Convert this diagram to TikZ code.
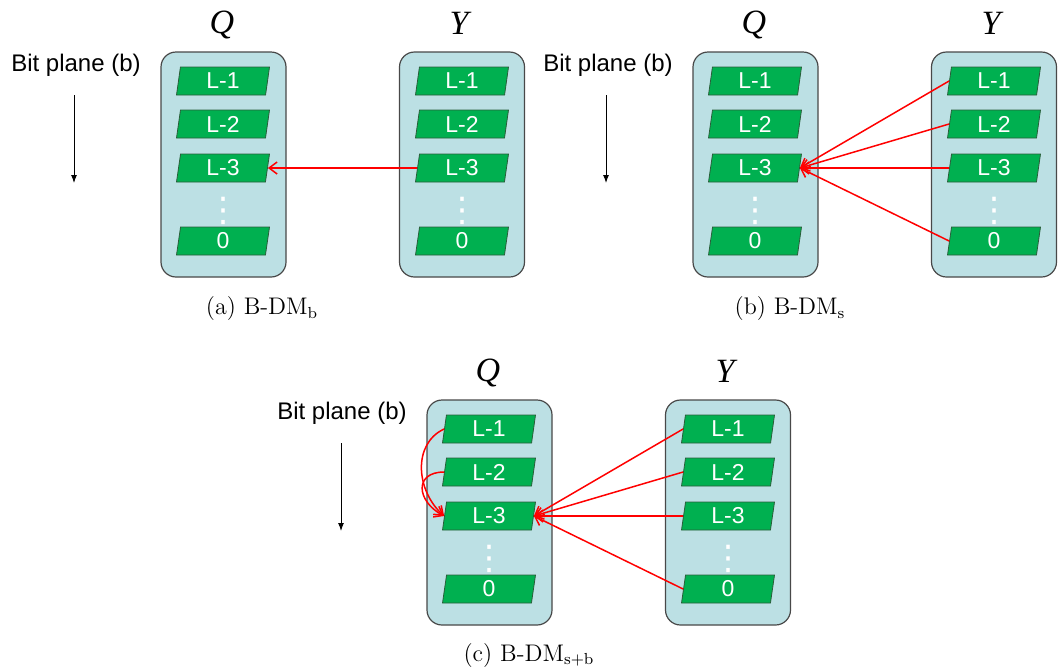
\documentclass[tikz,border=0pt]{standalone}
\usepackage{fontspec}
\newfontfamily\arialfont{Liberation Sans}
\newfontfamily\timesfont{Liberation Serif}
\newfontfamily\symbolfont{DejaVu Sans}
\usetikzlibrary{shapes.geometric,arrows.meta}

\definecolor{boxblue}{HTML}{BCE0E4}
\definecolor{boxgray}{HTML}{484848}
\definecolor{bargreen}{HTML}{00B050}
\definecolor{bardark}{HTML}{2A5E3A}

\tikzset{
  column/.style={draw=boxgray,fill=boxblue,line width=0.6pt,rounded corners=7.5pt,
    minimum width=62.5pt,minimum height=112.5pt},
  plane/.style={trapezium,trapezium left angle=76,trapezium right angle=104,
    trapezium stretches body,draw=bardark,fill=bargreen,inner sep=0pt,
    minimum width=46.5pt,minimum height=14pt,text=white,
    font=\arialfont\fontsize{11.5}{13}\selectfont},
  planedots/.style={inner sep=0pt,text=white,font=\symbolfont\fontsize{17}{19}\selectfont},
  bittext/.style={font=\arialfont\fontsize{12}{14}\selectfont},
  title/.style={font=\timesfont\itshape\fontsize{17}{19}\selectfont},
  caption/.style={font=\fontsize{12}{14}\selectfont},
  dep/.style={red,line width=0.75pt,-{Straight Barb[length=4pt,width=6pt]}},
  down/.style={black,line width=0.5pt,-{Latex[length=4pt,width=3pt]}}
}

\begin{document}
\begin{tikzpicture}
    [x=0.5pt,y=-0.5pt]
    \useasboundingbox (0,0) rectangle (1059,671);

    % panel (a):
    \node (bita) at (76,65) [bittext] {Bit plane (b)};
    \coordinate (bita top) at (74,95);
    \coordinate (bita bot) at (74,183);
    \draw [down] (bita top) -- (bita bot);

    \node (qa) at (223.5,164.5) [column] {};
    \node (ya) at (462,164.5) [column] {};
    \node (qatitle) at (222,25) [title] {Q};
    \node (yatitle) at (459,23) [title] {Y};

    \node (qa1) at (223,81) [plane] {L-1};
    \node (qa2) at (223,124) [plane] {L-2};
    \node (qa3) at (223,168) [plane] {L-3};
    \node (qad) at (223,211) [planedots] {⋮};
    \node (qa0) at (223,241) [plane] {0};

    \node (ya1) at (462,81) [plane] {L-1};
    \node (ya2) at (462,124) [plane] {L-2};
    \node (ya3) at (462,168) [plane] {L-3};
    \node (yad) at (462,211) [planedots] {⋮};
    \node (ya0) at (462,241) [plane] {0};

    \draw [dep] (ya3.west) -- (qa3.east);

    \node (capa) at (262,309) [caption] {(a)\ B-DM$_{\mathrm{b}}$};

    % panel (b):
    \begin{scope}[shift={(532,0)}]
      \node (bitb) at (76,65) [bittext] {Bit plane (b)};
      \coordinate (bitb top) at (74,95);
      \coordinate (bitb bot) at (74,183);
      \draw [down] (bitb top) -- (bitb bot);

      \node (qb) at (223.5,164.5) [column] {};
      \node (yb) at (462,164.5) [column] {};
      \node (qbtitle) at (222,25) [title] {Q};
      \node (ybtitle) at (459,23) [title] {Y};

      \node (qb1) at (223,81) [plane] {L-1};
      \node (qb2) at (223,124) [plane] {L-2};
      \node (qb3) at (223,168) [plane] {L-3};
      \node (qbd) at (223,211) [planedots] {⋮};
      \node (qb0) at (223,241) [plane] {0};

      \node (yb1) at (462,81) [plane] {L-1};
      \node (yb2) at (462,124) [plane] {L-2};
      \node (yb3) at (462,168) [plane] {L-3};
      \node (ybd) at (462,211) [planedots] {⋮};
      \node (yb0) at (462,241) [plane] {0};

      \draw [dep] (yb1.west) -- (qb3.east);
      \draw [dep] (yb2.west) -- (qb3.east);
      \draw [dep] (yb3.west) -- (qb3.east);
      \draw [dep] (yb0.west) -- (qb3.east);

      \node (capb) at (258,309) [caption] {(b)\ B-DM$_{\mathrm{s}}$};
    \end{scope}

    % panel (c):
    \begin{scope}[shift={(266,348)}]
      \node (bitc) at (76,65) [bittext] {Bit plane (b)};
      \coordinate (bitc top) at (75,95);
      \coordinate (bitc bot) at (75,183);
      \draw [down] (bitc top) -- (bitc bot);

      \node (qc) at (223.5,164.5) [column] {};
      \node (yc) at (462,164.5) [column] {};
      \node (qctitle) at (222,25) [title] {Q};
      \node (yctitle) at (459,23) [title] {Y};

      \node (qc1) at (223,81) [plane] {L-1};
      \node (qc2) at (223,124) [plane] {L-2};
      \node (qc3) at (223,168) [plane] {L-3};
      \node (qcd) at (223,211) [planedots] {⋮};
      \node (qc0) at (223,241) [plane] {0};

      \node (yc1) at (462,81) [plane] {L-1};
      \node (yc2) at (462,124) [plane] {L-2};
      \node (yc3) at (462,168) [plane] {L-3};
      \node (ycd) at (462,211) [planedots] {⋮};
      \node (yc0) at (462,241) [plane] {0};

      \draw [dep] (qc1.west) .. controls +(-32,15) and +(-28,-25) .. (qc3.west);
      \draw [dep] (qc2.west) .. controls +(-30,0) and +(-28,-15) .. (qc3.west);

      \draw [dep] (yc1.west) -- (qc3.east);
      \draw [dep] (yc2.west) -- (qc3.east);
      \draw [dep] (yc3.west) -- (qc3.east);
      \draw [dep] (yc0.west) -- (qc3.east);

      \node (capc) at (263,307) [caption] {(c)\ B-DM$_{\mathrm{s+b}}$};
    \end{scope}

\end{tikzpicture}
\end{document}
